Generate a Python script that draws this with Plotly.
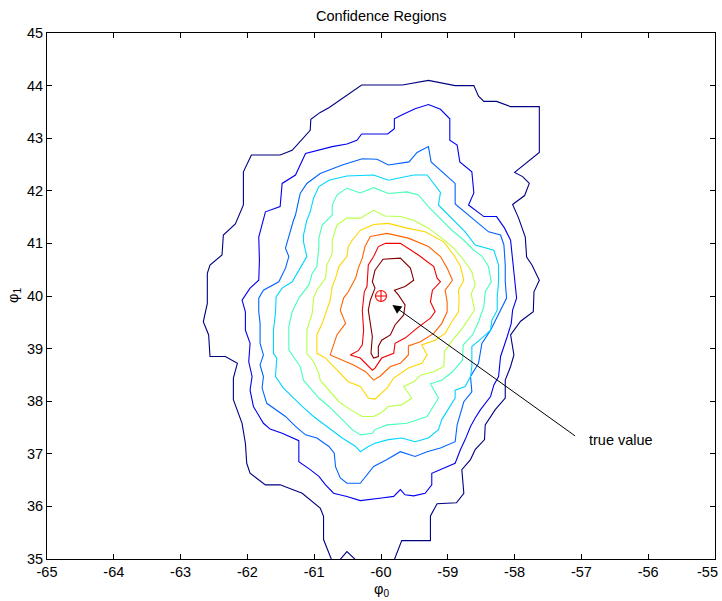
import plotly.graph_objects as go

# Contour levels of the confidence surface, outermost (0) to innermost (9).
# Each level is a closed polyline in (phi0, phi1) coordinates.
level0_phi0 = [-60.71, -60.86, -60.86, -60.91, -61.18, -61.51, -61.73, -61.96, -62.01, -62.03,
               -62.08, -62.21, -62.21, -62.15, -62.33, -62.56, -62.58, -62.66, -62.60, -62.60,
               -62.56, -62.38, -62.36, -62.18, -62.06, -62.06, -61.94, -61.51, -61.33, -61.21,
               -61.06, -61.05, -60.91, -60.78, -60.53, -60.29, -59.68, -59.29, -58.89, -58.61,
               -58.54, -58.46, -58.27, -58.06, -57.63, -57.63, -58.00, -57.88, -57.78, -57.85,
               -58.03, -57.94, -57.84, -57.82, -57.74, -57.63, -57.71, -57.72, -57.91, -58.06,
               -58.01, -58.06, -58.14, -58.14, -58.29, -58.44, -58.45, -58.59, -58.66, -58.79,
               -58.76, -58.87, -59.16, -59.26, -59.26, -59.69, -59.83, -60.30, -60.51, -60.68]
level0_phi1 = [34.89, 35.37, 35.81, 35.97, 36.25, 36.41, 36.41, 36.63, 36.82, 37.20,
               37.58, 38.03, 38.44, 38.72, 38.85, 38.85, 39.26, 39.51, 39.86, 40.43,
               40.59, 40.78, 41.16, 41.37, 41.73, 42.36, 42.68, 42.68, 42.77, 42.93,
               43.15, 43.36, 43.49, 43.58, 43.80, 44.01, 44.01, 44.10, 44.00, 44.00,
               43.80, 43.70, 43.70, 43.60, 43.60, 42.73, 42.35, 42.27, 42.14, 41.91,
               41.74, 41.48, 41.12, 40.74, 40.59, 40.30, 40.08, 39.70, 39.52, 39.26,
               38.88, 38.66, 38.40, 38.06, 37.84, 37.55, 37.27, 37.08, 36.89, 36.70,
               36.25, 36.07, 36.05, 35.82, 35.35, 35.35, 34.89, 34.89, 35.14, 34.89]

level1_phi0 = [-60.29, -59.90, -59.80, -59.80, -59.69, -59.49, -59.29, -59.11, -58.97, -58.97,
               -58.86, -58.82, -58.64, -58.61, -58.69, -58.46, -58.27, -58.15, -58.06, -58.00,
               -57.97, -58.03, -58.05, -58.11, -58.21, -58.24, -58.31, -58.36, -58.51, -58.59,
               -58.66, -58.74, -58.81, -58.89, -59.11, -59.24, -59.24, -59.34, -59.51, -59.64,
               -59.71, -59.81, -59.99, -60.31, -60.51, -60.71, -60.83, -60.93, -61.06, -61.23,
               -61.23, -61.48, -61.66, -61.76, -61.91, -61.96, -61.93, -61.98, -61.96, -62.03,
               -62.03, -62.08, -61.96, -61.83, -61.82, -61.83, -61.73, -61.51, -61.48, -61.28,
               -61.13, -60.73, -60.51, -60.36]
level1_phi1 = [43.08, 43.08, 43.18, 43.37, 43.44, 43.56, 43.64, 43.55, 43.37, 42.96,
               42.87, 42.55, 42.36, 41.96, 41.73, 41.51, 41.51, 41.29, 41.06, 40.34,
               39.96, 39.73, 39.48, 39.23, 38.85, 38.47, 38.31, 38.09, 37.84, 37.68,
               37.52, 37.27, 37.08, 36.82, 36.70, 36.63, 36.41, 36.25, 36.20, 36.22,
               36.32, 36.19, 36.16, 36.11, 36.19, 36.25, 36.41, 36.57, 36.70, 36.85,
               37.25, 37.39, 37.47, 37.58, 37.90, 38.21, 38.47, 38.75, 39.10, 39.35,
               39.70, 39.92, 40.15, 40.30, 40.68, 41.12, 41.60, 41.70, 42.14, 42.30,
               42.71, 42.84, 42.89, 42.96]

level2_phi0 = [-60.28, -60.06, -59.89, -59.58, -59.46, -59.29, -59.25, -59.04, -58.89, -58.89,
               -58.59, -58.39, -58.21, -58.16, -58.14, -58.14, -58.12, -58.21, -58.36, -58.49,
               -58.54, -58.66, -58.64, -58.76, -58.86, -58.89, -59.11, -59.31, -59.49, -59.71,
               -59.91, -60.11, -60.31, -60.51, -60.61, -60.68, -60.70, -60.78, -60.96, -61.13,
               -61.28, -61.43, -61.58, -61.71, -61.78, -61.76, -61.81, -61.76, -61.81, -61.81,
               -61.83, -61.83, -61.76, -61.53, -61.43, -61.38, -61.43, -61.39, -61.31, -61.28,
               -61.21, -61.11, -60.91, -60.58]
level2_phi1 = [42.61, 42.60, 42.49, 42.55, 42.73, 42.84, 42.55, 42.32, 42.14, 41.75,
               41.44, 41.22, 41.16, 40.97, 40.59, 40.27, 39.96, 39.73, 39.35, 39.10,
               38.72, 38.47, 38.18, 37.99, 37.55, 37.23, 37.11, 37.04, 36.95, 37.04,
               36.89, 36.76, 36.44, 36.44, 36.54, 36.75, 37.01, 37.14, 37.30, 37.36,
               37.52, 37.71, 37.84, 37.96, 38.25, 38.47, 38.69, 38.88, 39.10, 39.48,
               39.70, 39.96, 40.11, 40.27, 40.53, 40.75, 40.91, 41.10, 41.44, 41.54,
               41.95, 42.14, 42.33, 42.49]

level3_phi0 = [-60.51, -60.11, -59.89, -59.51, -59.31, -59.11, -59.14, -58.91, -58.74, -58.59,
               -58.31, -58.24, -58.24, -58.26, -58.26, -58.34, -58.36, -58.49, -58.64, -58.64,
               -58.66, -58.74, -58.89, -58.89, -59.01, -59.09, -59.14, -59.29, -59.49, -59.69,
               -59.89, -60.09, -60.19, -60.31, -60.38, -60.58, -60.78, -61.01, -61.18, -61.33,
               -61.46, -61.58, -61.56, -61.61, -61.61, -61.58, -61.57, -61.48, -61.33, -61.21,
               -61.11, -61.16, -61.16, -61.11, -61.06, -61.01, -60.93, -60.78]
level3_phi1 = [42.28, 42.30, 42.20, 42.30, 42.30, 41.97, 41.73, 41.44, 41.22, 40.97,
               40.87, 40.59, 40.27, 39.99, 39.73, 39.54, 39.35, 39.20, 39.04, 38.66,
               38.47, 38.28, 38.21, 38.06, 37.80, 37.65, 37.46, 37.30, 37.23, 37.30,
               37.27, 37.20, 37.14, 37.04, 37.14, 37.30, 37.49, 37.71, 37.90, 38.09,
               38.25, 38.47, 38.82, 38.91, 39.35, 39.67, 39.98, 40.15, 40.27, 40.53,
               40.75, 41.03, 41.16, 41.44, 41.60, 41.86, 42.08, 42.20]

level4_phi0 = [-60.51, -60.31, -60.11, -59.89, -59.61, -59.44, -59.29, -59.14, -58.94, -58.76,
               -58.61, -58.49, -58.39, -58.35, -58.44, -58.46, -58.54, -58.63, -58.77, -58.78,
               -58.93, -59.09, -59.26, -59.14, -59.31, -59.61, -59.91, -60.09, -60.13, -60.31,
               -60.43, -60.58, -60.78, -60.93, -61.06, -61.16, -61.21, -61.28, -61.38, -61.38,
               -61.33, -61.23, -61.08, -61.03, -60.96, -60.93, -60.93, -60.88, -60.73, -60.73,
               -60.66]
level4_phi1 = [42.05, 41.96, 42.06, 41.95, 41.98, 41.92, 41.70, 41.51, 41.25, 41.06,
               40.87, 40.76, 40.56, 40.27, 40.08, 39.80, 39.51, 39.26, 39.07, 38.78,
               38.56, 38.40, 38.33, 38.06, 37.71, 37.58, 37.55, 37.46, 37.39, 37.36,
               37.46, 37.65, 37.90, 38.06, 38.25, 38.40, 38.66, 38.78, 38.97, 39.42,
               39.70, 39.96, 40.21, 40.43, 40.56, 40.94, 41.10, 41.35, 41.54, 41.73,
               41.92]

level5_phi0 = [-60.66, -60.51, -60.31, -60.11, -59.94, -59.71, -59.51, -59.29, -59.09, -58.91,
               -58.76, -58.64, -58.59, -58.65, -58.60, -58.78, -58.93, -59.05, -59.06, -59.21,
               -59.40, -59.51, -59.66, -59.54, -59.69, -59.89, -60.01, -60.11, -60.28, -60.46,
               -60.63, -60.78, -60.91, -60.93, -61.01, -61.11, -61.11, -61.03, -61.01, -60.96,
               -60.83, -60.81, -60.73, -60.73]
level5_phi1 = [41.35, 41.48, 41.48, 41.63, 41.52, 41.51, 41.44, 41.29, 41.10, 40.91,
               40.68, 40.46, 40.21, 40.04, 39.73, 39.39, 39.16, 38.94, 38.66, 38.56,
               38.50, 38.37, 38.28, 38.06, 37.93, 37.90, 37.77, 37.71, 37.71, 37.84,
               37.99, 38.21, 38.40, 38.53, 38.75, 38.91, 39.35, 39.67, 39.96, 40.11,
               40.34, 40.59, 40.81, 41.06]

level6_phi0 = [-60.31, -60.11, -59.89, -59.61, -59.34, -59.06, -58.91, -58.81, -58.76, -58.84,
               -58.83, -58.84, -58.94, -59.04, -59.19, -59.39, -59.31, -59.39, -59.59, -59.81,
               -59.91, -60.09, -60.19, -60.31, -60.49, -60.61, -60.73, -60.83, -60.96, -60.96,
               -60.88, -60.81, -60.76, -60.73, -60.68, -60.63, -60.51, -60.49, -60.43]
level6_phi1 = [41.25, 41.36, 41.38, 41.29, 41.22, 41.03, 40.78, 40.56, 40.30, 40.11,
               39.92, 39.70, 39.51, 39.29, 39.16, 39.07, 38.88, 38.72, 38.63, 38.44,
               38.25, 38.04, 38.06, 38.28, 38.37, 38.53, 38.69, 38.82, 38.91, 39.26,
               39.48, 39.73, 39.92, 40.18, 40.34, 40.56, 40.75, 40.94, 41.06]

level7_phi0 = [-60.16, -59.91, -59.59, -59.29, -59.11, -59.01, -58.93, -59.04, -59.01, -59.01,
               -59.09, -59.21, -59.41, -59.59, -59.59, -59.71, -59.86, -60.01, -60.11, -60.23,
               -60.41, -60.58, -60.76, -60.66, -60.53, -60.61, -60.56, -60.49, -60.38, -60.34,
               -60.28, -60.24]
level7_phi1 = [41.13, 41.19, 41.10, 40.94, 40.75, 40.53, 40.30, 40.11, 39.89, 39.70,
               39.48, 39.29, 39.13, 39.05, 38.88, 38.72, 38.66, 38.48, 38.40, 38.56,
               38.69, 38.78, 38.88, 39.26, 39.48, 39.73, 39.96, 40.08, 40.34, 40.53,
               40.72, 40.94]

level8_phi0 = [-59.94, -59.71, -59.44, -59.21, -59.16, -59.11, -59.23, -59.26, -59.19, -59.26,
               -59.46, -59.64, -59.79, -59.81, -59.99, -60.09, -60.13, -60.31, -60.46, -60.34,
               -60.28, -60.26, -60.28, -60.25, -60.21, -60.19, -60.11, -60.04]
level8_phi1 = [41.00, 41.00, 40.78, 40.56, 40.34, 40.27, 40.11, 39.89, 39.70, 39.58,
               39.39, 39.20, 39.10, 38.91, 38.82, 38.63, 38.59, 38.82, 38.88, 38.96,
               39.07, 39.35, 39.73, 40.08, 40.18, 40.59, 40.75, 40.94]

level9_phi0 = [-60.09, -59.97, -59.71, -59.56, -59.51, -59.64, -59.80, -59.74, -59.64, -59.66,
               -59.79, -59.86, -59.99, -60.04, -60.04, -60.11, -60.15, -60.13, -60.16, -60.19,
               -60.16, -60.09, -60.13]
level9_phi1 = [40.49, 40.70, 40.72, 40.53, 40.30, 40.18, 40.11, 40.02, 39.83, 39.64,
               39.45, 39.26, 39.16, 39.04, 38.85, 38.82, 38.91, 39.23, 39.48, 39.73,
               39.92, 40.15, 40.27]

# True parameter value and its label
true_phi0 = -60.0
true_phi1 = 40.0
label_phi0 = -57.05
label_phi1 = 37.30
label_text = "true value"

x_tick_vals = [-65, -64, -63, -62, -61, -60, -59, -58, -57, -56, -55]
x_tick_text = ["-65", "-64", "-63", "-62", "-61", "-60", "-59", "-58", "-57", "-56", "-55"]
y_tick_vals = [35, 36, 37, 38, 39, 40, 41, 42, 43, 44, 45]
y_tick_text = ["35", "36", "37", "38", "39", "40", "41", "42", "43", "44", "45"]

levels = [
    (level0_phi0, level0_phi1), (level1_phi0, level1_phi1), (level2_phi0, level2_phi1),
    (level3_phi0, level3_phi1), (level4_phi0, level4_phi1), (level5_phi0, level5_phi1),
    (level6_phi0, level6_phi1), (level7_phi0, level7_phi1), (level8_phi0, level8_phi1),
    (level9_phi0, level9_phi1),
]

# jet colormap sampled at 10 evenly spaced levels
level_colors = ["rgb(0,0,128)", "rgb(0,0,241)", "rgb(0,99,255)", "rgb(0,213,255)",
                "rgb(71,255,184)", "rgb(184,255,71)", "rgb(255,213,0)", "rgb(255,99,0)",
                "rgb(241,0,0)", "rgb(128,0,0)"]

FONT = "Liberation Sans, Arial, Helvetica, sans-serif"
FS = 14.5

fig = go.Figure()
for (px, py), col in zip(levels, level_colors):
    fig.add_trace(go.Scatter(
        x=px + px[:1], y=py + py[:1], mode="lines",
        line=dict(color=col, width=1.1), hoverinfo="skip", showlegend=False,
    ))

fig.add_trace(go.Scatter(
    x=[true_phi0], y=[true_phi1], mode="markers",
    marker=dict(symbol="circle-cross-open", size=11, color="red", line=dict(width=1.1, color="red")),
    hoverinfo="skip", showlegend=False,
))

# Arrow from the label to the true value
fig.add_annotation(
    x=true_phi0 + 0.17, y=true_phi1 - 0.17, ax=label_phi0, ay=label_phi1,
    xref="x", yref="y", axref="x", ayref="y", text=" ", showarrow=True,
    arrowhead=2, arrowsize=1.8, arrowwidth=1, arrowcolor="black",
)
fig.add_annotation(
    x=label_phi0 + 0.13, y=label_phi1 - 0.04, xref="x", yref="y", text=label_text,
    showarrow=False, xanchor="left", yanchor="middle", font=dict(family=FONT, size=FS, color="black"),
)

# Title and axis labels
fig.add_annotation(x=0.5, y=1, xref="paper", yref="paper", yshift=17, text="Confidence Regions",
                   showarrow=False, xanchor="center", yanchor="middle",
                   font=dict(family=FONT, size=FS, color="black"))
fig.add_annotation(x=0.5, y=0, xref="paper", yref="paper", yshift=-31,
                   text="\u03c6<sub>0</sub>", showarrow=False, xanchor="center", yanchor="middle",
                   font=dict(family=FONT, size=FS, color="black"))
fig.add_annotation(x=0, y=0.5, xref="paper", yref="paper", xshift=-33,
                   text="\u03c6<sub>1</sub>", showarrow=False, xanchor="center", yanchor="middle",
                   textangle=-90, font=dict(family=FONT, size=FS, color="black"))

# The last x tick label sits at the page edge; it is right-aligned so it stays inside
shown_x_text = x_tick_text[:-1] + [""]
fig.add_annotation(x=x_tick_vals[-1], y=0, xref="x", yref="paper", xshift=5, yshift=-13,
                   text=x_tick_text[-1], showarrow=False, xanchor="right", yanchor="middle",
                   font=dict(family=FONT, size=FS, color="black"))

axis_common = dict(
    showline=True, linecolor="black", linewidth=1, mirror="ticks",
    ticks="inside", ticklen=5, tickwidth=1, tickcolor="black",
    showgrid=False, zeroline=False, automargin=False,
    tickfont=dict(family=FONT, size=FS, color="black"),
)
fig.update_xaxes(range=[-65, -55], tickvals=x_tick_vals, ticktext=shown_x_text, **axis_common)
fig.update_yaxes(range=[35, 45], tickvals=y_tick_vals, ticktext=y_tick_text, **axis_common)

fig.update_layout(
    width=722, height=601, autosize=False,
    margin=dict(l=47, r=7, t=33, b=42, pad=0, autoexpand=False),
    paper_bgcolor="white", plot_bgcolor="white",
    font=dict(family=FONT, color="black"),
)

fig.write_html("out.html")
